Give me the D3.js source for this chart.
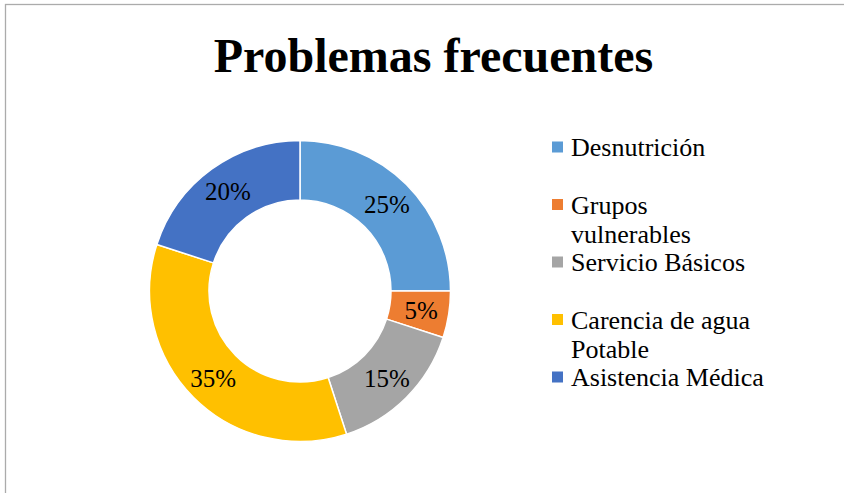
<!DOCTYPE html>
<html>
<head>
<meta charset="utf-8">
<script src="https://cdn.jsdelivr.net/npm/d3@7/dist/d3.min.js"></script>
<style>
  html, body { margin: 0; padding: 0; background: #fff; }
  svg { display: block; }
  text { font-family: "Liberation Serif", "Times New Roman", Times, "DejaVu Serif", serif; }
</style>
</head>
<body>
<svg id="chart" width="844" height="493"></svg>
<script>
const title = "Problemas frecuentes";
const categories = ["Desnutrición", "Grupos vulnerables", "Servicio Básicos", "Carencia de agua Potable", "Asistencia Médica"];
const legendLines = [["Desnutrición"], ["Grupos", "vulnerables"], ["Servicio Básicos"], ["Carencia de agua", "Potable"], ["Asistencia Médica"]];
const values = [25, 5, 15, 35, 20];
const colors = ["#5B9BD5", "#ED7D31", "#A5A5A5", "#FFC000", "#4472C4"];

const svg = d3.select("#chart");
const W = 844, H = 493;
svg.append("rect").attr("width", W).attr("height", H).attr("fill", "#fff");

// chart border
svg.append("rect")
  .attr("x", 5.5).attr("y", 4.5)
  .attr("width", W + 10).attr("height", H + 10)
  .attr("fill", "none").attr("stroke", "#ababab").attr("stroke-width", 1.3);

// title
svg.append("text")
  .attr("x", 433.5).attr("y", 72)
  .attr("text-anchor", "middle")
  .style("font-weight", "bold")
  .style("font-size", "48px")
  .attr("fill", "#000")
  .text(title);

const cx = 300, cy = 291, rOuter = 150.5, rInner = 91;
const pie = d3.pie().sort(null).value(d => d)(values);
const arc = d3.arc().innerRadius(rInner).outerRadius(rOuter);
const g = svg.append("g").attr("transform", `translate(${cx},${cy})`);

g.selectAll("path.slice").data(pie).join("path")
  .attr("class", "slice")
  .attr("d", arc)
  .attr("fill", (d, i) => colors[i])
  .attr("stroke", "#fff")
  .attr("stroke-width", 1.5);

const rLabel = (rInner + rOuter) / 2 + 2;
g.selectAll("text.lbl").data(pie).join("text")
  .attr("class", "lbl")
  .attr("transform", d => {
    const a = (d.startAngle + d.endAngle) / 2;
    return `translate(${rLabel * Math.sin(a)},${-rLabel * Math.cos(a)})`;
  })
  .attr("text-anchor", "middle")
  .attr("dy", "0.35em")
  .style("font-size", "25px")
  .attr("fill", "#000")
  .text(d => d3.format(".0%")(d.value / d3.sum(values)));

// legend
const legend = svg.append("g");
const entryY = d3.scaleLinear().domain([0, 4]).range([156, 386]);
const lineH = 29;
categories.forEach((c, i) => {
  const y = entryY(i);
  legend.append("rect")
    .attr("x", 552).attr("y", y - 14.5)
    .attr("width", 11).attr("height", 11)
    .attr("fill", colors[i]);
  const t = legend.append("text")
    .style("font-size", "26px")
    .attr("fill", "#000");
  legendLines[i].forEach((ln, j) => {
    t.append("tspan").attr("x", 571).attr("y", y + j * lineH).text(ln);
  });
});
</script>
</body>
</html>
